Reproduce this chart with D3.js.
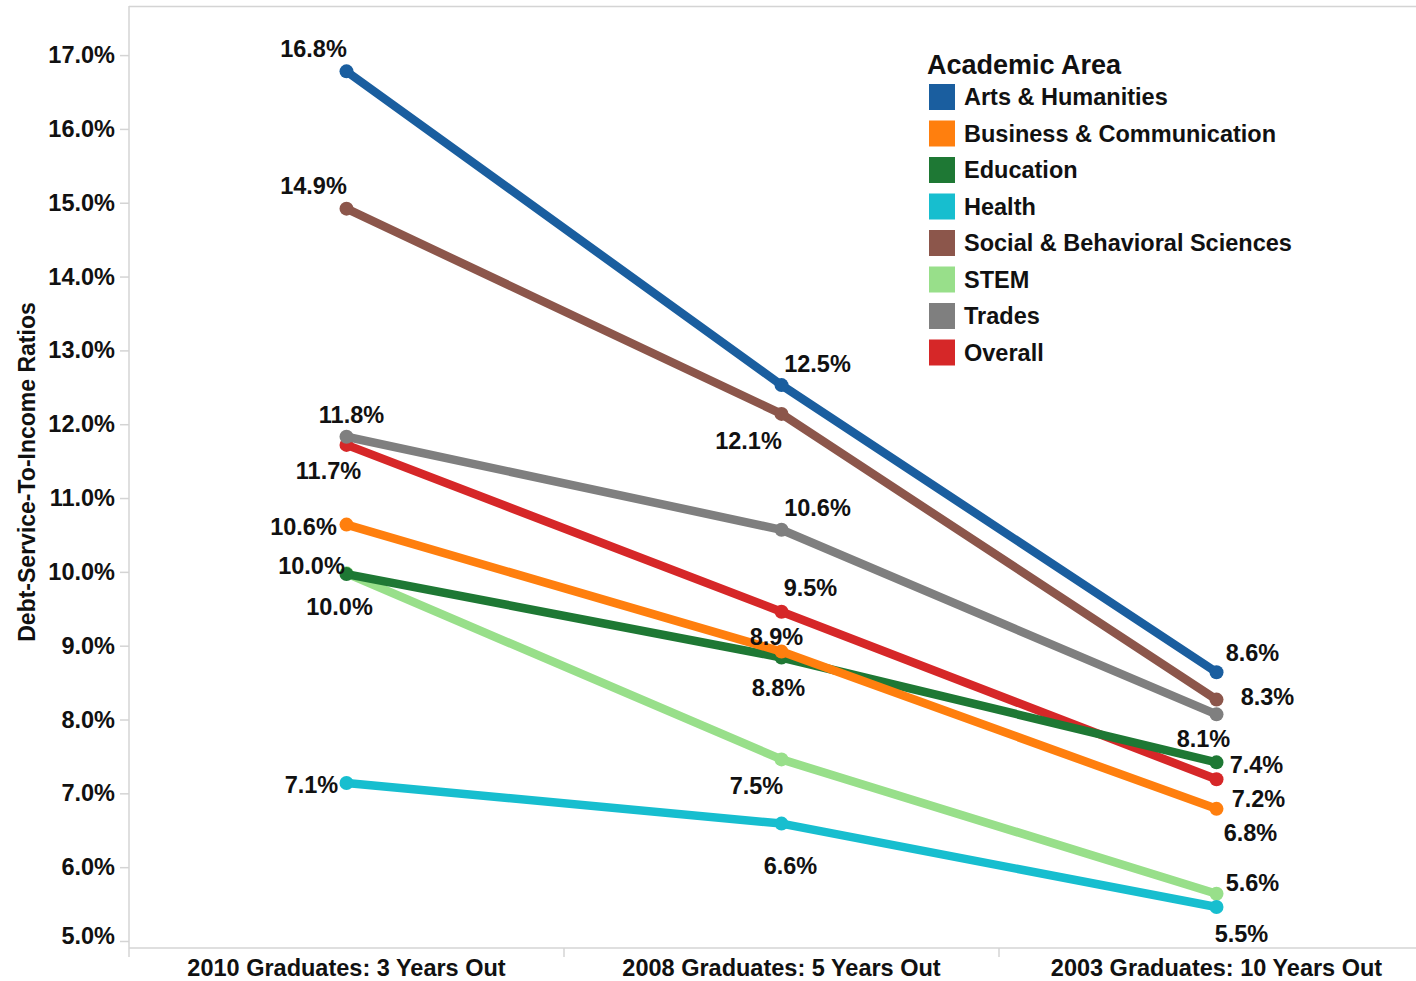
<!DOCTYPE html>
<html>
<head>
<meta charset="utf-8">
<script src="https://cdn.jsdelivr.net/npm/d3@7"></script>
<style>
  body { margin: 0; background: #fff; }
  text { font-family: "Liberation Sans", Arial, sans-serif; font-weight: bold; fill: #111; }
</style>
</head>
<body>
<svg id="chart"></svg>
<script>
// Categories on the x axis
const periods = [
  "2010 Graduates: 3 Years Out",
  "2008 Graduates: 5 Years Out",
  "2003 Graduates: 10 Years Out",
];

// Series (legend order)
const areas = [
  "Arts & Humanities",
  "Business & Communication",
  "Education",
  "Health",
  "Social & Behavioral Sciences",
  "STEM",
  "Trades",
  "Overall",
];

// Debt-service-to-income ratio (%) per area, one value per period
const artsValues = [16.78, 12.53, 8.64];
const businessValues = [10.64, 8.92, 6.79];
const educationValues = [9.97, 8.84, 7.42];
const healthValues = [7.14, 6.59, 5.46];
const socialValues = [14.92, 12.14, 8.27];
const stemValues = [9.98, 7.46, 5.64];
const tradesValues = [11.83, 10.57, 8.07];
const overallValues = [11.72, 9.46, 7.19];

const yTicks = [5, 6, 7, 8, 9, 10, 11, 12, 13, 14, 15, 16, 17];

// Styling / layout
const colors = ["#1a5e9f", "#ff7f0e", "#1e7834", "#17becf", "#8c564b", "#98df8a", "#7f7f7f", "#d62728"];
// label offsets from the point (dx, dy of the label centre), per area, per period
const labelOffsets = [
  [[-33, -23], [36, -21], [36, -19]],
  [[-43, 2], [-5, -15], [34, 24]],
  [[-7, 33], [-3, 30], [40, 2]],
  [[-35, 2], [9, 42], [25, 27]],
  [[-33, -23], [-33, 27], [51, -3]],
  [[-35, -8], [-25, 26], [36, -11]],
  [[5, -22], [36, -22], [-13, 24]],
  [[-18, 26], [29, -24], [42, 19]],
];
// draw order (later = on top)
const drawOrder = [5, 7, 2, 1, 3, 6, 4, 0];

const seriesValues = [
  artsValues, businessValues, educationValues, healthValues,
  socialValues, stemValues, tradesValues, overallValues,
];
const series = areas.map((name, i) => ({
  name,
  color: colors[i],
  index: i,
  values: seriesValues[i].map((v, j) => ({ period: periods[j], value: v, j })),
}));

const width = 1416;
const height = 981;
const margin = { top: 6, left: 129, bottom: 33 };
const bandWidth = 435;

const svg = d3.select("#chart").attr("width", width).attr("height", height);

const x = d3
  .scaleBand()
  .domain(periods)
  .range([margin.left, margin.left + bandWidth * periods.length])
  .paddingInner(0)
  .paddingOuter(0);

const y = d3
  .scaleLinear()
  .domain([4.905, 17.665])
  .range([height - margin.bottom, margin.top]);

const xPos = (d) => x(d.period) + x.bandwidth() / 2;
const yPos = (d) => y(d.value);
const fmt = d3.format(".1f");

const axisColor = "#d4d4d4";
const plotBottom = height - margin.bottom;

// frame line on top
svg.append("line")
  .attr("x1", margin.left).attr("x2", width)
  .attr("y1", margin.top + 0.5).attr("y2", margin.top + 0.5)
  .attr("stroke", axisColor).attr("stroke-width", 1.5);

// y axis
const yAxis = d3
  .axisLeft(y)
  .tickValues(yTicks)
  .tickSize(9)
  .tickPadding(5)
  .tickFormat((d) => fmt(d) + "%");

const gY = svg.append("g")
  .attr("transform", `translate(${margin.left},0)`)
  .call(yAxis);
gY.select(".domain").attr("stroke", axisColor).attr("stroke-width", 1.5)
  .attr("d", `M0,${margin.top}V${plotBottom}`);
gY.selectAll(".tick line").attr("stroke", axisColor).attr("stroke-width", 1.5);
gY.selectAll(".tick text")
  .attr("font-size", 23.5)
  .attr("fill", "#111")
  .attr("dy", (d) => (y(d) > plotBottom - 12 ? "0.1em" : "0.32em"));

// x axis
const xAxis = d3.axisBottom(x).tickSize(0).tickPadding(11);
const gX = svg.append("g")
  .attr("transform", `translate(0,${plotBottom})`)
  .call(xAxis);
gX.select(".domain").attr("stroke", axisColor).attr("stroke-width", 1.5)
  .attr("d", `M${margin.left},0H${width}`);
gX.selectAll(".tick text").attr("font-size", 23.5).attr("fill", "#111");
// band separators
gX.selectAll(".sep")
  .data(periods)
  .join("line")
  .attr("class", "sep")
  .attr("x1", (d) => x(d)).attr("x2", (d) => x(d))
  .attr("y1", 0).attr("y2", 9)
  .attr("stroke", axisColor).attr("stroke-width", 1.5);

// y axis title
svg.append("text")
  .attr("transform", `translate(35,472) rotate(-90)`)
  .attr("text-anchor", "middle")
  .attr("font-size", 23)
  .text("Debt-Service-To-Income Ratios");

// lines
const line = d3.line().x(xPos).y(yPos);
const ordered = drawOrder.map((i) => series[i]);

const gSeries = svg.selectAll(".series")
  .data(ordered)
  .join("g")
  .attr("class", "series");

gSeries.append("path")
  .attr("d", (d) => line(d.values))
  .attr("fill", "none")
  .attr("stroke", (d) => d.color)
  .attr("stroke-width", 8.5)
  .attr("stroke-linejoin", "round");

gSeries.selectAll("circle")
  .data((d) => d.values.map((v) => ({ ...v, color: d.color })))
  .join("circle")
  .attr("cx", xPos)
  .attr("cy", yPos)
  .attr("r", 7)
  .attr("fill", (d) => d.color);

// value labels
const labels = [];
series.forEach((s) => {
  s.values.forEach((v) => {
    labels.push({ ...v, off: labelOffsets[s.index][v.j] });
  });
});
svg.append("g")
  .selectAll("text")
  .data(labels)
  .join("text")
  .attr("x", (d) => xPos(d) + d.off[0])
  .attr("y", (d) => yPos(d) + d.off[1])
  .attr("dy", "0.35em")
  .attr("text-anchor", "middle")
  .attr("font-size", 23.5)
  .text((d) => fmt(d.value) + "%");

// legend
const legend = svg.append("g").attr("transform", "translate(927,0)");
legend.append("text")
  .attr("x", 0).attr("y", 74)
  .attr("font-size", 27)
  .text("Academic Area");

const items = legend.selectAll(".item")
  .data(series)
  .join("g")
  .attr("class", "item")
  .attr("transform", (d, i) => `translate(2,${84 + i * 36.5})`);
items.append("rect")
  .attr("width", 26).attr("height", 26)
  .attr("fill", (d) => d.color);
items.append("text")
  .attr("x", 35).attr("y", 13).attr("dy", "0.35em")
  .attr("font-size", 23.5)
  .text((d) => d.name);
</script>
</body>
</html>
